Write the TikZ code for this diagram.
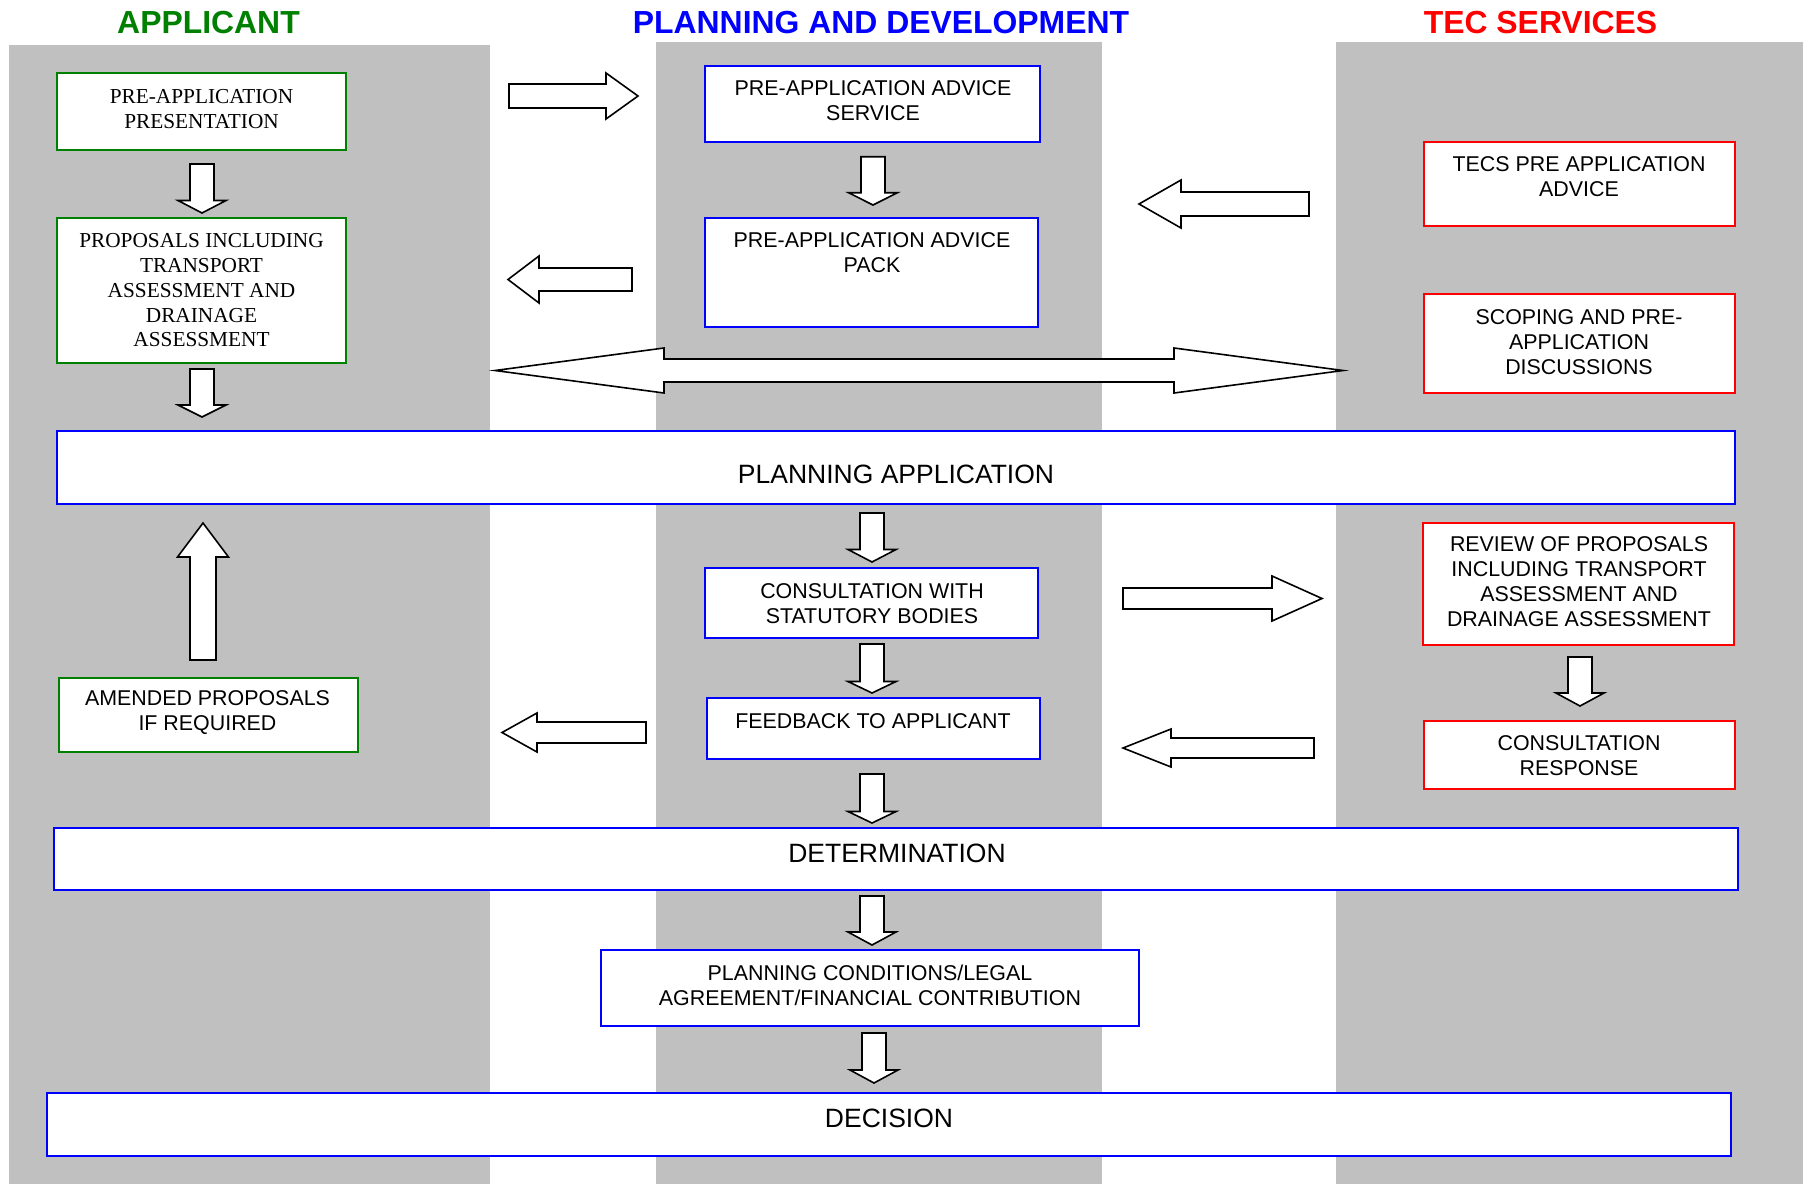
\documentclass[tikz,border=0pt]{standalone}
\usepackage{fontspec}
\setmainfont{Liberation Sans}
\newfontfamily\serifface{Liberation Serif}
\usetikzlibrary{calc}
\definecolor{appgreen}{RGB}{0,128,0}
\definecolor{pdblue}{RGB}{0,0,255}
\definecolor{tecred}{RGB}{255,0,0}
\definecolor{lanegray}{RGB}{192,192,192}
\tikzset{
  box/.style={draw, line width=2pt, fill=white, inner sep=0pt},
  gbox/.style={box, draw=appgreen},
  bbox/.style={box, draw=pdblue},
  rbox/.style={box, draw=tecred},
  txt/.style={align=center, font=\fontsize{21.4}{25}\selectfont, inner sep=0pt},
  stxt/.style={align=center, font=\serifface\fontsize{21.3}{24.8}\selectfont, inner sep=0pt},
  bigtxt/.style={font=\fontsize{26.5}{32}\selectfont, inner sep=0pt},
  lanetitle/.style={font=\bfseries\fontsize{31.9}{36}\selectfont, anchor=base, inner sep=0pt},
  blk/.style={draw=black, fill=white, line width=1.6pt, line join=miter},
  fat/.style args={#1/#2/#3}{blk, to path={
    ($(\tikztostart)!#1!90:(\tikztotarget)$)
    -- ($(\tikztotarget)!#3!(\tikztostart)!#1!90:(\tikztotarget)$)
    -- ($(\tikztotarget)!#3!(\tikztostart)!#2!90:(\tikztotarget)$)
    -- (\tikztotarget)
    -- ($(\tikztotarget)!#3!(\tikztostart)!#2!-90:(\tikztotarget)$)
    -- ($(\tikztotarget)!#3!(\tikztostart)!#1!-90:(\tikztotarget)$)
    -- ($(\tikztostart)!#1!-90:(\tikztotarget)$)
    -- cycle}},
  dfat/.style args={#1/#2/#3}{blk, to path={
    -- ($(\tikztostart)!#3!(\tikztotarget)!#2!90:(\tikztotarget)$)
    -- ($(\tikztostart)!#3!(\tikztotarget)!#1!90:(\tikztotarget)$)
    -- ($(\tikztotarget)!#3!(\tikztostart)!#1!90:(\tikztotarget)$)
    -- ($(\tikztotarget)!#3!(\tikztostart)!#2!90:(\tikztotarget)$)
    -- (\tikztotarget)
    -- ($(\tikztotarget)!#3!(\tikztostart)!#2!-90:(\tikztotarget)$)
    -- ($(\tikztotarget)!#3!(\tikztostart)!#1!-90:(\tikztotarget)$)
    -- ($(\tikztostart)!#3!(\tikztotarget)!#1!-90:(\tikztotarget)$)
    -- ($(\tikztostart)!#3!(\tikztotarget)!#2!-90:(\tikztotarget)$)
    -- cycle}},
}
\begin{document}
\begin{tikzpicture}[x=1pt,y=-1pt]
\useasboundingbox (0,0) rectangle (1803,1184);
% swim lanes
\fill[lanegray] (9,45) rectangle (490,1184);
\fill[lanegray] (656,41.7) rectangle (1102,1184);
\fill[lanegray] (1336,41.7) rectangle (1803,1184);

% lane titles
\node[lanetitle, text=appgreen] (tA) at (208.5,33) {APPLICANT};
\node[lanetitle, text=pdblue] (tP) at (881,33) {PLANNING AND DEVELOPMENT};
\node[lanetitle, text=tecred] (tT) at (1540.5,33) {TEC SERVICES};

% boxes
\node[gbox, minimum width=289pt, minimum height=77pt] (pres) at (201.5,111.2) {};
\node[gbox, minimum width=289pt, minimum height=145pt] (prop) at (201.5,290.2) {};
\node[gbox, minimum width=299pt, minimum height=74pt] (amend) at (208,714.7) {};
\node[bbox, minimum width=335pt, minimum height=76.3pt] (serv) at (872.5,103.8) {};
\node[bbox, minimum width=333pt, minimum height=109pt] (pack) at (871.5,272.5) {};
\node[bbox, minimum width=1677.5pt, minimum height=73pt] (papp) at (896.2,467.5) {};
\node[bbox, minimum width=333pt, minimum height=70pt] (cons) at (871.5,603) {};
\node[bbox, minimum width=333pt, minimum height=61.3pt] (feed) at (873.5,728.3) {};
\node[bbox, minimum width=1684pt, minimum height=62.3pt] (det) at (896,858.8) {};
\node[bbox, minimum width=538pt, minimum height=76.3pt] (cond) at (870,987.8) {};
\node[bbox, minimum width=1684pt, minimum height=62.7pt] (dec) at (889,1124.3) {};
\node[rbox, minimum width=311pt, minimum height=84pt] (tecs) at (1579.5,184) {};
\node[rbox, minimum width=311pt, minimum height=99pt] (scop) at (1579.5,343.5) {};
\node[rbox, minimum width=311pt, minimum height=122pt] (rev) at (1578.5,584) {};
\node[rbox, minimum width=311pt, minimum height=68pt] (resp) at (1579.5,755) {};

% box texts
\node[stxt] (pres-t) at (201.5,108.8) {PRE-APPLICATION\\PRESENTATION};
\node[stxt] (prop-t) at (201.5,290.3) {PROPOSALS INCLUDING\\TRANSPORT\\ASSESSMENT AND\\DRAINAGE\\ASSESSMENT};
\node[txt] (amend-t) at (207.5,713) {AMENDED PROPOSALS\\IF REQUIRED};
\node[txt] (serv-t) at (873,100.8) {PRE-APPLICATION ADVICE\\SERVICE};
\node[txt] (pack-t) at (872,253) {PRE-APPLICATION ADVICE\\PACK};
\node[bigtxt] (papp-t) at (896,474) {PLANNING APPLICATION};
\node[txt] (cons-t) at (872,604) {CONSULTATION WITH\\STATUTORY BODIES};
\node[txt] (feed-t) at (873,721) {FEEDBACK TO APPLICANT};
\node[bigtxt] (det-t) at (897,853) {DETERMINATION};
\node[txt] (cond-t) at (870,985) {PLANNING CONDITIONS/LEGAL\\AGREEMENT/FINANCIAL CONTRIBUTION};
\node[bigtxt] (dec-t) at (889,1118) {DECISION};
\node[txt] (tecs-t) at (1579,177) {TECS PRE APPLICATION\\ADVICE};
\node[txt] (scop-t) at (1579,342) {SCOPING AND PRE-\\APPLICATION\\DISCUSSIONS};
\node[txt] (rev-t) at (1579,582) {REVIEW OF PROPOSALS\\INCLUDING TRANSPORT\\ASSESSMENT AND\\DRAINAGE ASSESSMENT};
\node[txt] (resp-t) at (1579,756) {CONSULTATION\\RESPONSE};

% arrow end points
\coordinate (a1s) at (202,164);   \coordinate (a1e) at (202,213);
\coordinate (a2s) at (202,369);   \coordinate (a2e) at (202,417);
\coordinate (b1s) at (873,156.7); \coordinate (b1e) at (873,205);
\coordinate (b2s) at (872,513);   \coordinate (b2e) at (872,562);
\coordinate (b3s) at (872,644);   \coordinate (b3e) at (872,693);
\coordinate (b4s) at (872,774);   \coordinate (b4e) at (872,823);
\coordinate (b5s) at (872,896);   \coordinate (b5e) at (872,945);
\coordinate (b6s) at (874,1033);  \coordinate (b6e) at (874,1083);
\coordinate (c1s) at (1580,657);  \coordinate (c1e) at (1580,706);
\coordinate (ups) at (203,660);   \coordinate (upe) at (203,523);
\coordinate (h1s) at (509,96);    \coordinate (h1e) at (638,96);
\coordinate (h2s) at (632,279.5); \coordinate (h2e) at (508,279.5);
\coordinate (dbs) at (495,370.5); \coordinate (dbe) at (1343,370.5);
\coordinate (h3s) at (1309,204);  \coordinate (h3e) at (1139,204);
\coordinate (h4s) at (1123,598.5);\coordinate (h4e) at (1322,598.5);
\coordinate (h5s) at (646,732.5); \coordinate (h5e) at (502,732.5);
\coordinate (h6s) at (1314,748);  \coordinate (h6e) at (1123,748);

% block arrows
\draw[fat=12pt/24pt/12.5pt] (a1s) to (a1e);
\draw[fat=12pt/24pt/12pt] (a2s) to (a2e);
\draw[fat=12pt/24.5pt/12.3pt] (b1s) to (b1e);
\draw[fat=12pt/24pt/12.5pt] (b2s) to (b2e);
\draw[fat=12pt/24pt/11.5pt] (b3s) to (b3e);
\draw[fat=12pt/24pt/11.5pt] (b4s) to (b4e);
\draw[fat=12pt/24pt/13pt] (b5s) to (b5e);
\draw[fat=12pt/24pt/13pt] (b6s) to (b6e);
\draw[fat=12pt/24pt/13pt] (c1s) to (c1e);
\draw[fat=13pt/25.5pt/34pt] (ups) to (upe);
\draw[fat=12pt/23pt/32pt] (h1s) to (h1e);
\draw[fat=11.5pt/23.5pt/31pt] (h2s) to (h2e);
\draw[dfat=11.5pt/22.5pt/169pt] (dbs) to (dbe);
\draw[fat=12pt/24pt/42pt] (h3s) to (h3e);
\draw[fat=10.5pt/22.5pt/50pt] (h4s) to (h4e);
\draw[fat=10.5pt/19.5pt/35pt] (h5s) to (h5e);
\draw[fat=10pt/19pt/48pt] (h6s) to (h6e);
\end{tikzpicture}
\end{document}
